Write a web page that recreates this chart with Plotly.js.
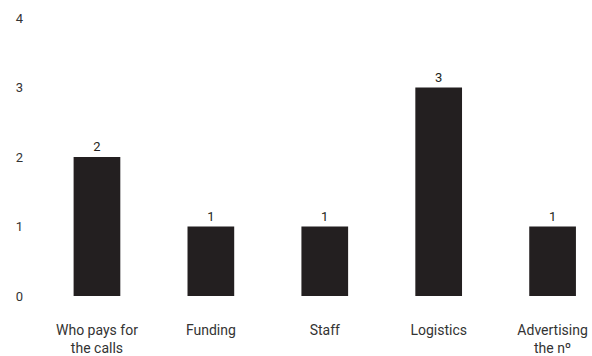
<!DOCTYPE html>
<html><head><meta charset="utf-8">
<script src="https://cdn.plot.ly/plotly-3.0.1.min.js"></script>
<style>html,body{margin:0;padding:0;background:#fff}</style>
</head><body>
<div id="chart" style="width:592px;height:356px"></div>
<script>
const categories = ["Who pays for<br>the calls", "Funding", "Staff", "Logistics", "Advertising<br>the nº"];
const values = [2, 1, 1, 3, 1];
const yTicks = [0, 1, 2, 3, 4];

const trace = {
  type: "bar",
  x: categories.map((c, i) => i),
  y: values,
  text: values.map(String),
  textposition: "outside",
  cliponaxis: false,
  textfont: {family: "Roboto, sans-serif", size: 13, color: "#231f20"},
  marker: {color: "#231f20"},
  width: 0.41,
  hoverinfo: "none"
};

const layout = {
  width: 592, height: 356,
  margin: {l: 40, r: 0, t: 18, b: 60},
  paper_bgcolor: "#fff", plot_bgcolor: "#fff",
  showlegend: false,
  font: {family: "Roboto, sans-serif", size: 13, color: "#333"},
  xaxis: {
    range: [-0.5, 4.346],
    tickmode: "array",
    tickvals: categories.map((c, i) => i),
    ticktext: categories,
    showgrid: false, zeroline: false, showline: false,
    ticks: "", ticklabelstandoff: 24,
    tickfont: {size: 14, color: "#333"}
  },
  yaxis: {
    range: [0, 4],
    tickmode: "array",
    tickvals: yTicks,
    ticktext: yTicks.map(String),
    showgrid: false, zeroline: false, showline: false,
    ticks: "", ticklabelstandoff: 16,
    tickfont: {size: 13, color: "#333"}
  }
};

Plotly.newPlot("chart", [trace], layout, {displayModeBar: false, staticPlot: true});
</script>
</body></html>
